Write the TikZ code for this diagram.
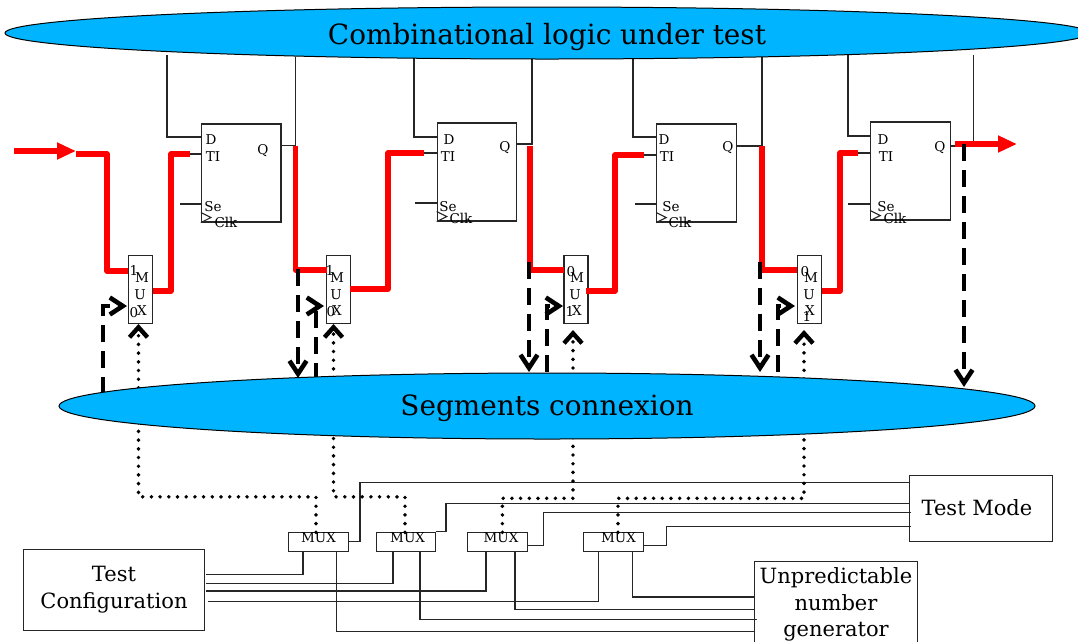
\documentclass[tikz,border=0pt]{standalone}
\usepackage{fontspec}
\setmainfont{DejaVu Serif}
\usetikzlibrary{arrows.meta,shapes.geometric}
\definecolor{segblue}{RGB}{0,180,255}
\tikzset{
  thinw/.style={line width=1.1pt,black!85},
  boxw/.style={draw=black!85,line width=1.1pt,inner sep=0pt,align=center},
  ffbox/.style={boxw,minimum width=79.5pt,minimum height=98pt},
  mxbox/.style={boxw,minimum width=24pt,minimum height=67.5pt},
  smbox/.style={boxw,minimum width=59.5pt,minimum height=18.7pt},
  pinlab/.style={inner sep=0pt,font=\fontsize{13.5}{14}\selectfont},
  mainlab/.style={font=\fontsize{21}{26.5}\selectfont},
  bluebl/.style={ellipse,draw=black,line width=1pt,fill=segblue,inner sep=0pt},
  redw/.style={red,line width=5.6pt,line join=round},
  dashw/.style={black,line width=4.6pt,dash pattern=on 17pt off 9pt,
    -{Straight Barb[length=13pt,width=17pt,line width=4.6pt]}},
  dotw/.style={black,line width=3.9pt,line cap=round,dash pattern=on 0pt off 8.7pt}
}
\begin{document}
\begin{tikzpicture}[x=1pt,y=-1pt]
  \useasboundingbox (0,0) rectangle (1078,641);
  % flip-flops and muxes
  \node[ffbox] (ffa) at (241.2,173) {};
  \node[ffbox] (ffb) at (477,172) {};
  \node[ffbox] (ffc) at (696.5,173) {};
  \node[ffbox] (ffd) at (910.5,171) {};
  \node[mxbox] (mxa) at (140.5,289.5) {};
  \node[mxbox] (mxb) at (338.5,289.5) {};
  \node[mxbox] (mxc) at (576,289.5) {};
  \node[mxbox] (mxd) at (809.5,289.5) {};
  \node[smbox] (mxe) at (318.5,541.7) {};
  \node[smbox] (mxf) at (405.8,541.7) {};
  \node[smbox] (mxg) at (497.3,541.7) {};
  \node[smbox] (mxh) at (613.3,541.7) {};
  \node[boxw,mainlab,minimum width=181.5pt,minimum height=80.7pt] (tcfg) at (114,589.7) {Test\\Configuration};
  \node[boxw,mainlab,minimum width=143.4pt,minimum height=66pt] (tmode) at (981,508.3) {};
  \node[mainlab,inner sep=0pt] (tmodel) at (977,507.3) {Test Mode};
  \node[boxw,mainlab,minimum width=162.3pt,minimum height=85.6pt] (upng) at (836,604.5) {Unpredictable\\number\\generator};
  % points on the wires
  \foreach \n/\x/\y in {
    ffaDt/167/55,ffaD/201.5/137,ffaQ/281/145.5,ffaQt/295.5/57,ffaT/190/154,ffaS/180/204,
    ffbDt/414/57,ffbD/437/137,ffbQ/517/144,ffbQt/532/58,ffbT/424/153,ffbS/415/203,
    ffcDt/633/57,ffcD/657/137,ffcQ/736/146,ffcQt/762/57,ffcT/644/155,ffcS/635/204,
    ffdDt/848/55,ffdD/871/136,ffdQ/950/146,ffdQt/973.5/55,ffdT/858/153,ffdS/848/204,
    inA/14/151,inB/76/151,inC/76/154,outA/955/144,outB/1017/144,
    mxaI/128/271,mxaO/153/291,mxbI/327/270,mxbO/350/289,
    mxcI/564/270,mxcO/586/291,mxdI/797/270,mxdO/822/291,
    elin/107/200,elaa/171/220,elab/388/220,elac/615/220,elad/840/220,
    qaR/295.5/146,qbR/530/146,qcR/762/146,
    daS/103/394,daT/127/306,dbS/316/380,dbT/324/306,dcS/547/372,dcT/563/306,ddS/778/372,ddT/795/306,
    ubA/298/269,ubB/298/378,ucA/529/262,ucB/529/372,udA/760/262,udB/760/372,ueA/964/144,ueB/964/387,
    sela/138.5/324,selb/333.5/324,selc/573/330,seld/804/330,
    busa/138.5/496.8,busb/573/498.3,
    mxeD/316/532.3,mxfD/405/532.3,mxgD/502.4/532.3,mxhD/618/532.3,
    mxgO/527/545.5,mxhO/643/545.5,
    tmE/909.5/482.7,tmF/909.5/503.8,tmG/911/512.2,tmH/911/526.7,
    elme/360/500,elmf/446/520,elmg/543.5/530,elmh/666.3/540,
    cfE/206/574.3,cfF/206/583.3,cfG/206/591,cfH/208/601.7,
    mxeC/303/551,mxfC/393/551,mxgC/486/551,mxhC/598.5/551,
    mxeU/336.5/551,mxfU/420/551,mxgU/515/551,mxhU/632.3/551,
    unE/755/631.5,unF/756.5/619.3,unG/755/609.7,unH/755/597}
    \coordinate (\n) at (\x,\y);
  % thin wires
  \foreach \n in {ffa,ffb,ffc,ffd}{
    \draw[thinw] (\n Dt) |- (\n D);
    \draw[thinw] (\n Q) -| (\n Qt);
    \draw[thinw] (\n T) -- (\n .west |- \n T);
    \draw[thinw] (\n S) -- (\n .west |- \n S);
    \draw[thinw] (\n .south west) -- ++(10,-5) -- ++(-10,-5);
  }
  \draw[thinw] (mxe.east) -| (elme) |- (tmE);
  \draw[thinw] (mxf.north east) -| (elmf) |- (tmF);
  \draw[thinw] (mxgO) -| (elmg) |- (tmG);
  \draw[thinw] (mxhO) -| (elmh) |- (tmH);
  \draw[thinw] (cfE) -| (mxeC);
  \draw[thinw] (cfF) -| (mxfC);
  \draw[thinw] (cfG) -| (mxgC);
  \draw[thinw] (cfH) -| (mxhC);
  \draw[thinw] (mxeU) |- (unE);
  \draw[thinw] (mxfU) |- (unF);
  \draw[thinw] (mxgU) |- (unG);
  \draw[thinw] (mxhU) |- (unH);
  % dotted select lines
  \draw[dotw,-{Straight Barb[length=10pt,width=18pt,line width=4.4pt]}] (mxeD) |- (sela |- busa) -- (sela);
  \draw[dotw,-{Straight Barb[length=10pt,width=18pt,line width=4.4pt]}] (mxfD) |- (selb |- busa) -- (selb);
  \draw[dotw,-{Straight Barb[length=10pt,width=18pt,line width=4.4pt]}] (mxgD) |- (selc |- busb) -- (selc);
  \draw[dotw,-{Straight Barb[length=10pt,width=18pt,line width=4.4pt]}] (mxhD) |- (seld |- busb) -- (seld);
  % red scan path
  \draw[redw,-{Triangle[length=19pt,width=16pt]}] (inA) -- (inB);
  \draw[redw] (inC) -| (elin) |- (mxaI);
  \draw[redw] (mxaO) -| (elaa) |- (ffaT);
  \draw[redw] (qaR) |- (mxbI);
  \draw[redw] (mxbO) -| (elab) |- (ffbT);
  \draw[redw] (qbR) |- (mxcI);
  \draw[redw] (mxcO) -| (elac) |- (ffcT);
  \draw[redw] (qcR) |- (mxdI);
  \draw[redw] (mxdO) -| (elad) |- (ffdT);
  \draw[redw,-{Triangle[length=19pt,width=16pt]}] (outA) -- (outB);
  % dashed segment lines
  \draw[dashw] (daS) |- (daT);
  \draw[dashw] (dbS) |- (dbT);
  \draw[dashw] (dcS) |- (dcT);
  \draw[dashw] (ddS) |- (ddT);
  \draw[dashw] (ubA) -- (ubB);
  \draw[dashw] (ucA) -- (ucB);
  \draw[dashw] (udA) -- (udB);
  \draw[dashw] (ueA) -- (ueB);
  % big blocks
  \node[bluebl,minimum width=1084pt,minimum height=52pt] (logic) at (547,33) {};
  \node[bluebl,minimum width=976pt,minimum height=66pt] (segs) at (547,406) {};
  \node[inner sep=0pt,font=\fontsize{27.9}{28}\selectfont] (logicl) at (547,36.5) {Combinational logic under test};
  \node[inner sep=0pt,font=\fontsize{27.9}{28}\selectfont] (segsl) at (547,408.5) {Segments connexion};
  % pin labels
  \foreach \n/\x/\y/\txt in {
    faD/211/140/D,faT/213/157/TI,faQ/263/151/Q,faS/213/207/Se,faC/226/222/Clk,
    fbD/449/140/D,fbT/448/157/TI,fbQ/505/148/Q,fbS/448/207/Se,fbC/461/218/Clk,
    fcD/664/140/D,fcT/667/157/TI,fcQ/728/148/Q,fcS/671/207/Se,fcC/680/222/Clk,
    fdD/883/140/D,fdT/886/157/TI,fdQ/940/148/Q,fdS/886/207/Se,fdC/895/218/Clk,
    maM/142/278/M,maU/140/295/U,maX/142/311/X,maA/134/270/1,maB/134/313/0,
    mbM/337/278/M,mbU/336/295/U,mbX/337/311/X,mbA/330/270/1,mbB/331/312/0,
    mcM/577/278/M,mcU/575/295/U,mcX/577/311/X,mcA/571/272/0,mcB/570/311/1,
    mdM/811/278/M,mdU/809/295/U,mdX/810/311/X,mdA/805/272/0,mdB/807/316/1,
    meL/318.5/537.5/MUX,mfL/407.6/537.5/MUX,mgL/501/537.5/MUX,mhL/618.5/537.5/MUX}
    \node[pinlab] (\n) at (\x,\y) {\txt};
\end{tikzpicture}
\end{document}
